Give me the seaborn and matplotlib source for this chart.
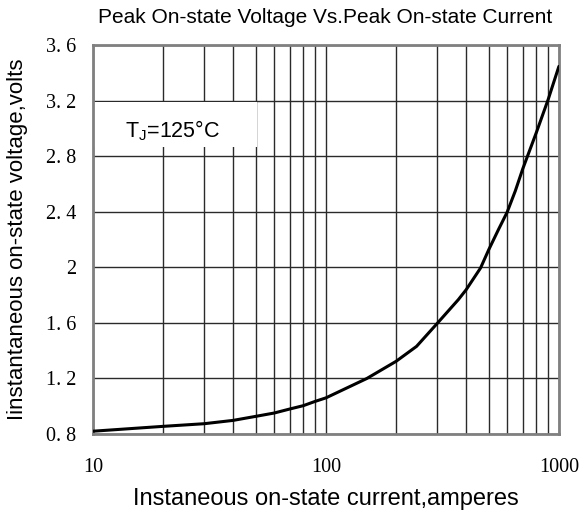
import numpy as np
import pandas as pd
import matplotlib
matplotlib.use('Agg')
import matplotlib.pyplot as plt
import seaborn as sns
from matplotlib.ticker import FixedLocator, NullFormatter, FixedFormatter

# Valores
corrente = [10, 20, 30, 40, 50, 60, 70, 80, 90, 100, 150, 200, 245, 300, 370,
            400, 461, 500, 550, 600, 650, 700, 800, 900, 1000]
tensao = [0.82, 0.855, 0.874, 0.898, 0.927, 0.951, 0.98, 1.004, 1.035, 1.06, 1.20,
          1.323, 1.431, 1.595, 1.767, 1.839, 1.995, 2.127, 2.271, 2.398, 2.55,
          2.71, 2.97, 3.21, 3.447]

ticks_y = [0.8, 1.2, 1.6, 2.0, 2.4, 2.8, 3.2, 3.6]
rotulos_y = ['0. 8', '1. 2', '1. 6', '2', '2. 4', '2. 8', '3. 2', '3. 6']
ticks_x = [10, 100, 1000]
rotulos_x = ['10', '100', '1000']

dados = pd.DataFrame({'corrente': corrente, 'tensao': tensao})

sns.set_style('white')
plt.rcParams['font.family'] = ['Liberation Sans', 'DejaVu Sans']
plt.rcParams['text.color'] = 'black'
plt.rcParams['axes.labelcolor'] = 'black'
plt.rcParams['xtick.color'] = 'black'
plt.rcParams['ytick.color'] = 'black'

fig = plt.figure(figsize=(5.84, 5.13), dpi=100)
ax = fig.add_axes([0.159, 0.154, 0.798, 0.758])

sns.lineplot(data=dados, x='corrente', y='tensao', color='black', linewidth=2.2, ax=ax, zorder=3)

ax.set_xscale('log')
ax.set_xlim(10, 1000)
ax.set_ylim(0.8, 3.6)

ax.xaxis.set_major_locator(FixedLocator(ticks_x))
ax.xaxis.set_major_formatter(FixedFormatter(rotulos_x))
minor_x = [m * d for d in (10, 100) for m in range(2, 10)]
ax.xaxis.set_minor_locator(FixedLocator(minor_x))
ax.xaxis.set_minor_formatter(NullFormatter())
ax.yaxis.set_major_locator(FixedLocator(ticks_y))
ax.yaxis.set_major_formatter(FixedFormatter(rotulos_y))

ax.grid(True, which='both', color='#2a2a2a', linewidth=1.0)
ax.tick_params(axis='x', which='both', length=0, pad=17.5)
ax.tick_params(axis='y', which='both', length=0, pad=12)
for lbl in ax.get_xticklabels() + ax.get_yticklabels():
    lbl.set_family(['Liberation Serif', 'DejaVu Serif'])
    lbl.set_fontsize(14.5)

for s in ax.spines.values():
    s.set_color('#808080')
    s.set_linewidth(2)

# Caixa com a temperatura de junção
ax.add_patch(plt.Rectangle((0.003, 0.737), 0.35, 0.117, transform=ax.transAxes,
                           facecolor='white', edgecolor='none', zorder=2.5))
ax.text(0.172, 0.779, r'T$_\mathregular{J}$=125°C', transform=ax.transAxes,
        ha='center', va='center', fontsize=15.5, zorder=4)

ax.set_xlabel('Instaneous on-state current,amperes', fontsize=17)
ax.xaxis.set_label_coords(0.50, -0.140)
ax.set_ylabel('Iinstantaneous on-state voltage,volts', fontsize=16)
ax.yaxis.set_label_coords(-0.14, 0.50)
fig.text(0.557, 0.965, 'Peak On-state Voltage Vs.Peak On-state Current',
         ha='center', va='center', fontsize=15)

fig.savefig('out.png', dpi=100)
